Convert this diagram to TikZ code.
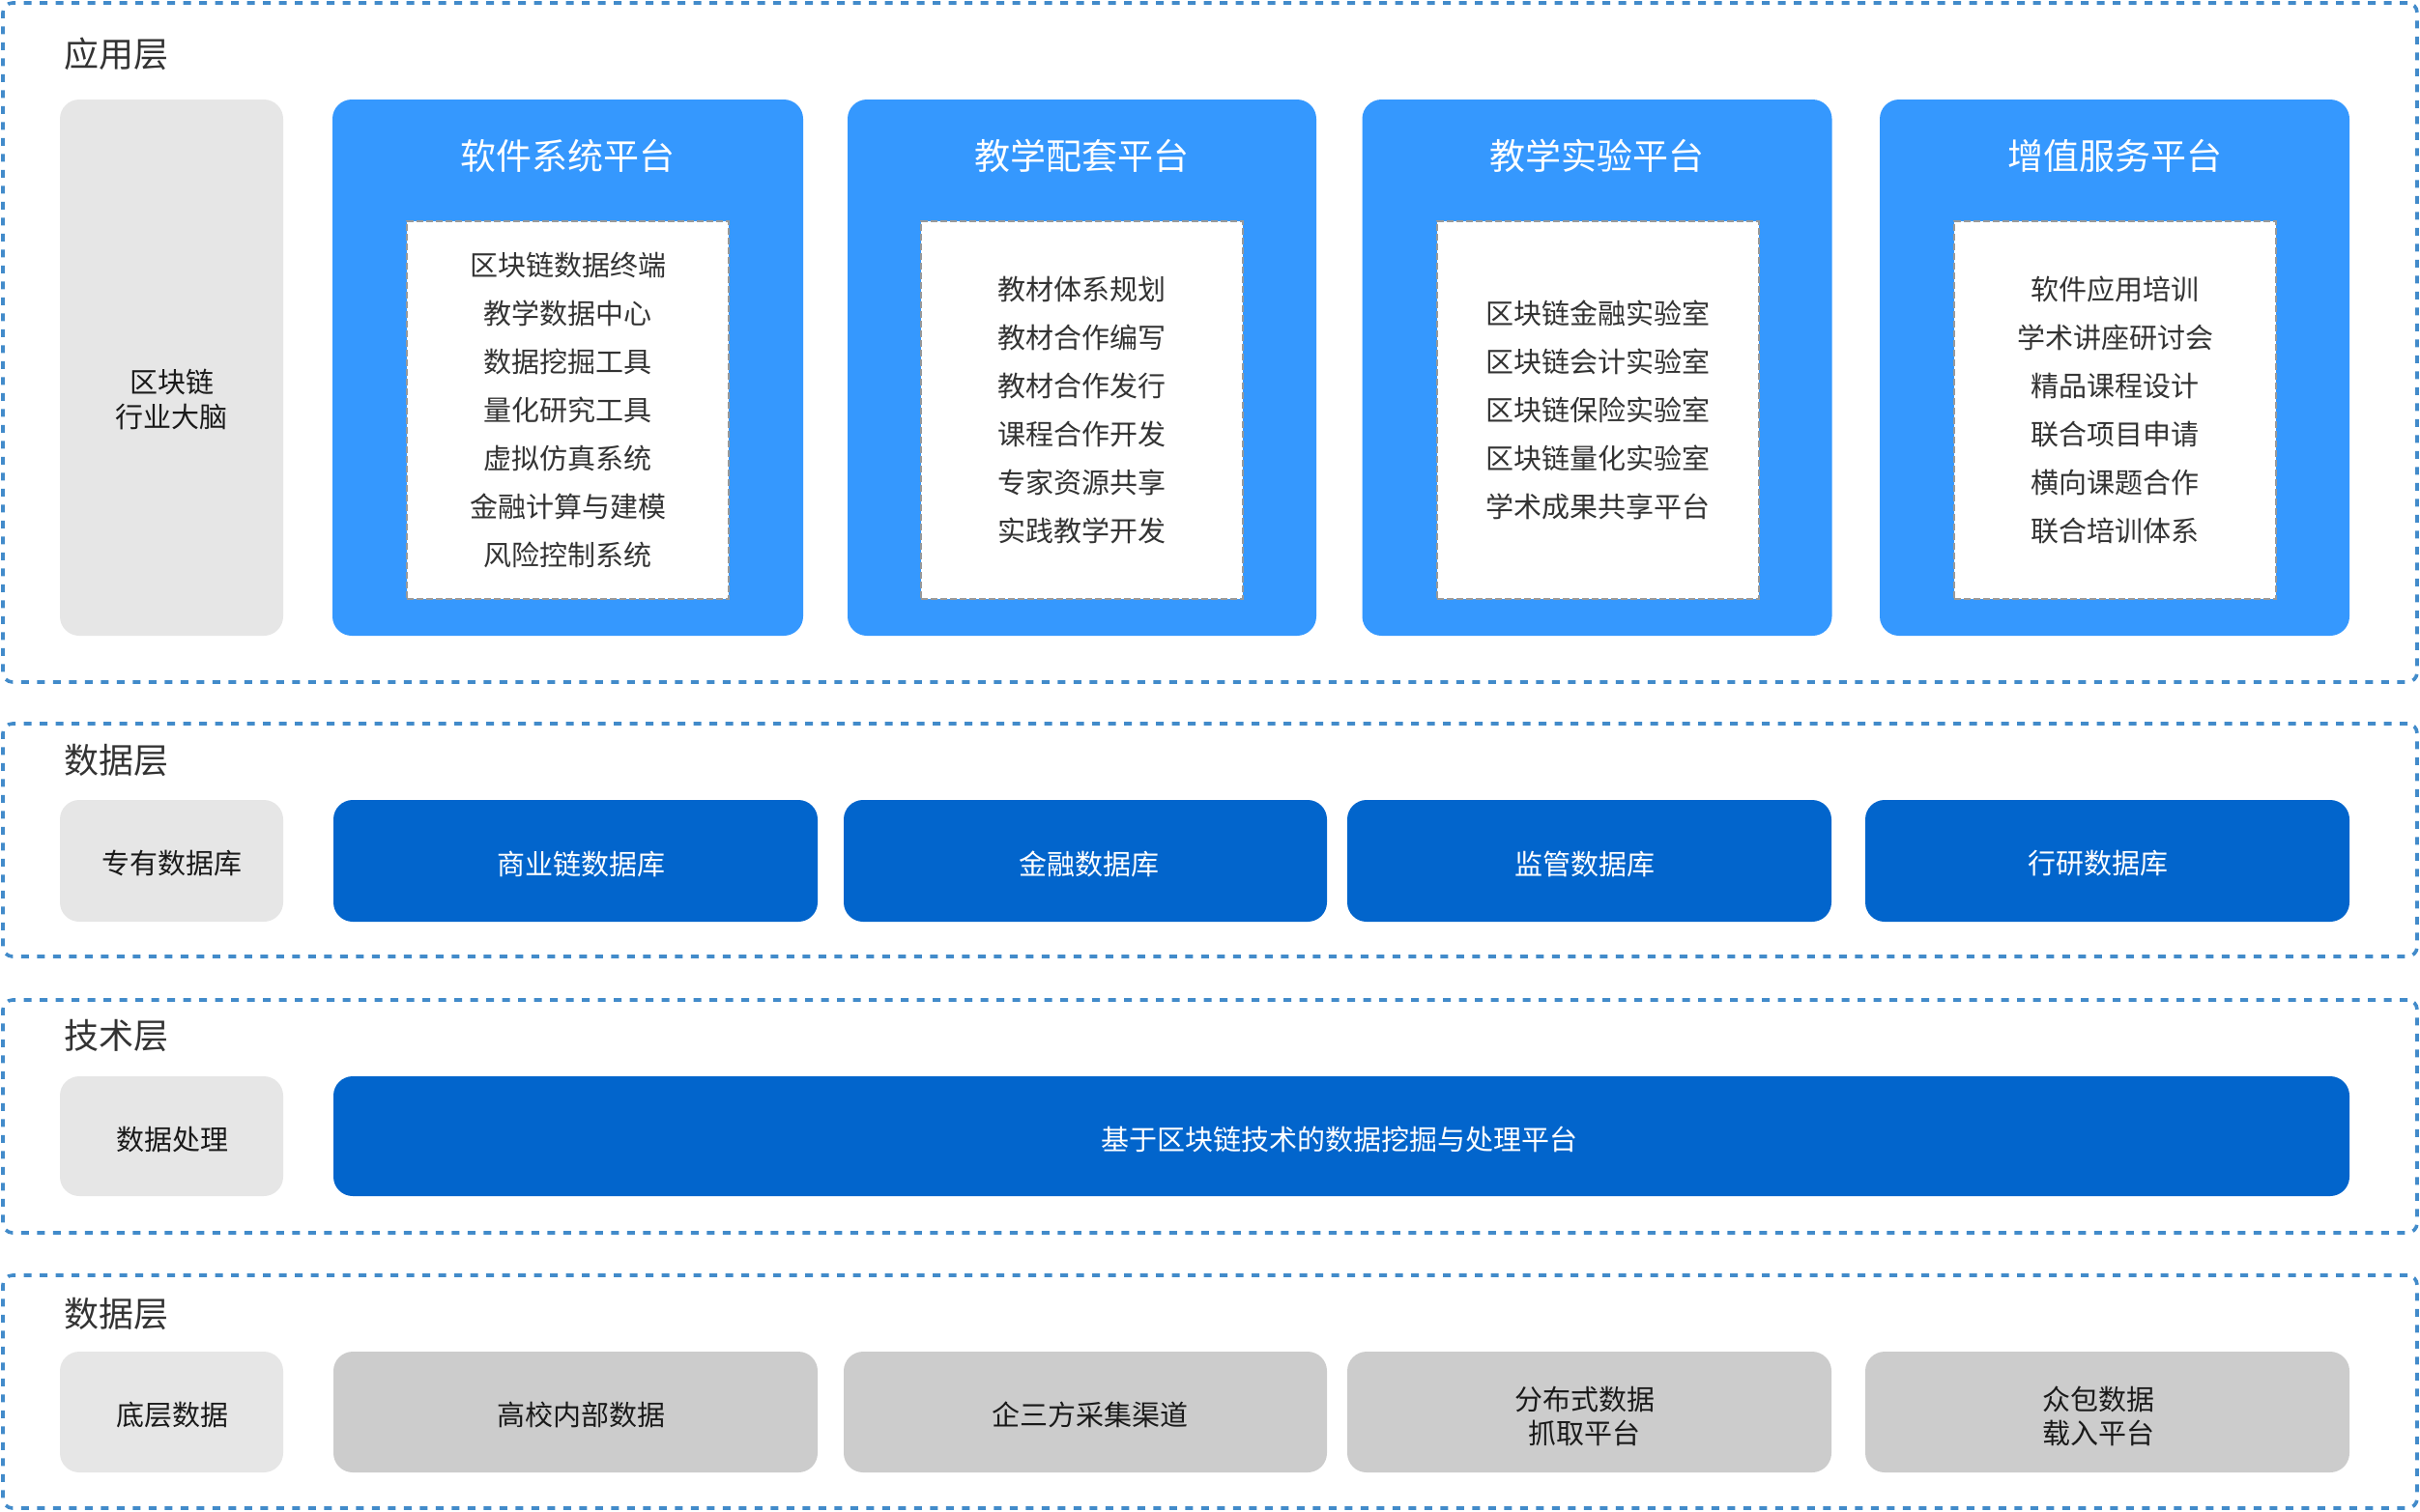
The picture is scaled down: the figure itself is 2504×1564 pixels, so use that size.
\documentclass[tikz,border=0pt]{standalone}
\usepackage{fontspec}
\setmainfont{Noto Sans CJK SC}
\definecolor{pblue}{HTML}{3598FE}
\definecolor{dblue}{HTML}{0265CC}
\definecolor{lgray}{HTML}{E6E6E6}
\definecolor{mgray}{HTML}{CCCCCC}
\definecolor{layerblue}{HTML}{428BCA}
\definecolor{dashgray}{HTML}{999999}
\definecolor{txt}{HTML}{333333}
\definecolor{txtd}{HTML}{1A1A1A}
\begin{document}
\begin{tikzpicture}[x=0.5pt,y=-0.5pt,
  layerbox/.style={draw=layerblue, line width=1.8pt, dash pattern=on 4pt off 4.25pt,
    rounded corners=5pt, rectangle, minimum width=1249pt, minimum height=120.5pt, inner sep=0pt},
  ltitle/.style={anchor=west, inner sep=0pt, text=txt, font=\fontsize{18pt}{22pt}\selectfont},
  graybox/.style={fill=lgray, rounded corners=10pt, inner sep=0pt, minimum width=115.5pt},
  platbox/.style={fill=pblue, rounded corners=10pt, inner sep=0pt, minimum height=277.5pt},
  ptitle/.style={text=white, inner sep=0pt, font=\fontsize{18.5pt}{22pt}\selectfont},
  itembox/.style={fill=white, draw=dashgray, line width=1pt, dash pattern=on 3.5pt off 1.5pt,
    minimum width=166.5pt, minimum height=195.5pt, inner sep=0pt, align=center, text=txt,
    font=\fontsize{14.5pt}{25pt}\selectfont},
  dbbox/.style={fill=dblue, rounded corners=10pt, inner sep=0pt, minimum height=63pt},
  srcbox/.style={fill=mgray, rounded corners=10pt, inner sep=0pt, minimum height=62.5pt},
  darktext/.style={text=txtd, inner sep=0pt, align=center, yshift=-1.5pt,
    font=\fontsize{14.5pt}{17.5pt}\selectfont},
  whitetext/.style={text=white, inner sep=0pt, align=center, yshift=-1.5pt,
    font=\fontsize{14.5pt}{17.5pt}\selectfont}
]
\useasboundingbox (0,0) rectangle (2504,1564);

% ---------- layers ----------
\node[layerbox, minimum height=351.5pt] (L1) at (1252,354.5) {};
\node[layerbox] (L2) at (1252,869.5) {};
\node[layerbox] (L3) at (1252,1155.5) {};
\node[layerbox] (L4) at (1252,1440.5) {};

\node[ltitle] (T1) at (66,56) {应用层};
\node[ltitle] (T2) at (66,787) {数据层};
\node[ltitle] (T3) at (66,1072) {技术层};
\node[ltitle] (T4) at (66,1360) {数据层};

% ---------- application layer ----------
\node[graybox, minimum height=277.5pt] (G1) at (177.5,380.5) {};
\node[text=txtd, align=center, inner sep=0pt, font=\fontsize{14.5pt}{18pt}\selectfont] (G1t) at (177.5,413) {区块链\\行业大脑};

\node[platbox, minimum width=243.5pt] (P1) at (587.5,380.5) {};
\node[platbox, minimum width=242.5pt] (P2) at (1119.5,380.5) {};
\node[platbox, minimum width=243pt] (P3) at (1652.5,380.5) {};
\node[platbox, minimum width=243pt] (P4) at (2188,380.5) {};

\node[ptitle] (P1t) at (587,161) {软件系统平台};
\node[ptitle] (P2t) at (1119.5,161) {教学配套平台};
\node[ptitle] (P3t) at (1652.5,161) {教学实验平台};
\node[ptitle] (P4t) at (2188,161) {增值服务平台};

\node[itembox] (P1i) at (587.5,424.5) {区块链数据终端\\教学数据中心\\数据挖掘工具\\量化研究工具\\虚拟仿真系统\\金融计算与建模\\风险控制系统};
\node[itembox] (P2i) at (1119,424.5) {教材体系规划\\教材合作编写\\教材合作发行\\课程合作开发\\专家资源共享\\实践教学开发};
\node[itembox] (P3i) at (1653,424.5) {区块链金融实验室\\区块链会计实验室\\区块链保险实验室\\区块链量化实验室\\学术成果共享平台};
\node[itembox] (P4i) at (2188.5,424.5) {软件应用培训\\学术讲座研讨会\\精品课程设计\\联合项目申请\\横向课题合作\\联合培训体系};

% ---------- data layer ----------
\node[graybox, minimum height=63pt] (G2) at (177.5,891) {};
\node[dbbox, minimum width=250.5pt] (D1) at (595.5,891) {};
\node[dbbox, minimum width=250pt] (D2) at (1123,891) {};
\node[dbbox, minimum width=250.5pt] (D3) at (1644.5,891) {};
\node[dbbox, minimum width=250.5pt] (D4) at (2180.5,891) {};
\node[darktext] (G2t) at (178,891) {专有数据库};
\node[whitetext] (D1t) at (601,891) {商业链数据库};
\node[whitetext] (D2t) at (1127,891) {金融数据库};
\node[whitetext] (D3t) at (1639.5,891) {监管数据库};
\node[whitetext] (D4t) at (2171,891) {行研数据库};

% ---------- technology layer ----------
\node[graybox, minimum height=62pt] (G3) at (177.5,1176) {};
\node[dbbox, minimum width=1043pt, minimum height=62pt] (K1) at (1388,1176) {};
\node[darktext] (G3t) at (178,1176) {数据处理};
\node[whitetext] (K1t) at (1386,1176) {基于区块链技术的数据挖掘与处理平台};

% ---------- bottom data layer ----------
\node[graybox, minimum height=62.5pt] (G4) at (177.5,1461.5) {};
\node[srcbox, minimum width=250.5pt] (S1) at (595.5,1461.5) {};
\node[srcbox, minimum width=250pt] (S2) at (1123,1461.5) {};
\node[srcbox, minimum width=250.5pt] (S3) at (1644.5,1461.5) {};
\node[srcbox, minimum width=250.5pt] (S4) at (2180.5,1461.5) {};
\node[darktext] (G4t) at (178,1461.5) {底层数据};
\node[darktext] (S1t) at (601,1461.5) {高校内部数据};
\node[darktext] (S2t) at (1128,1461.5) {企三方采集渠道};
\node[darktext] (S3t) at (1639.5,1462.5) {分布式数据\\抓取平台};
\node[darktext] (S4t) at (2171,1462.5) {众包数据\\载入平台};
\end{tikzpicture}
\end{document}
